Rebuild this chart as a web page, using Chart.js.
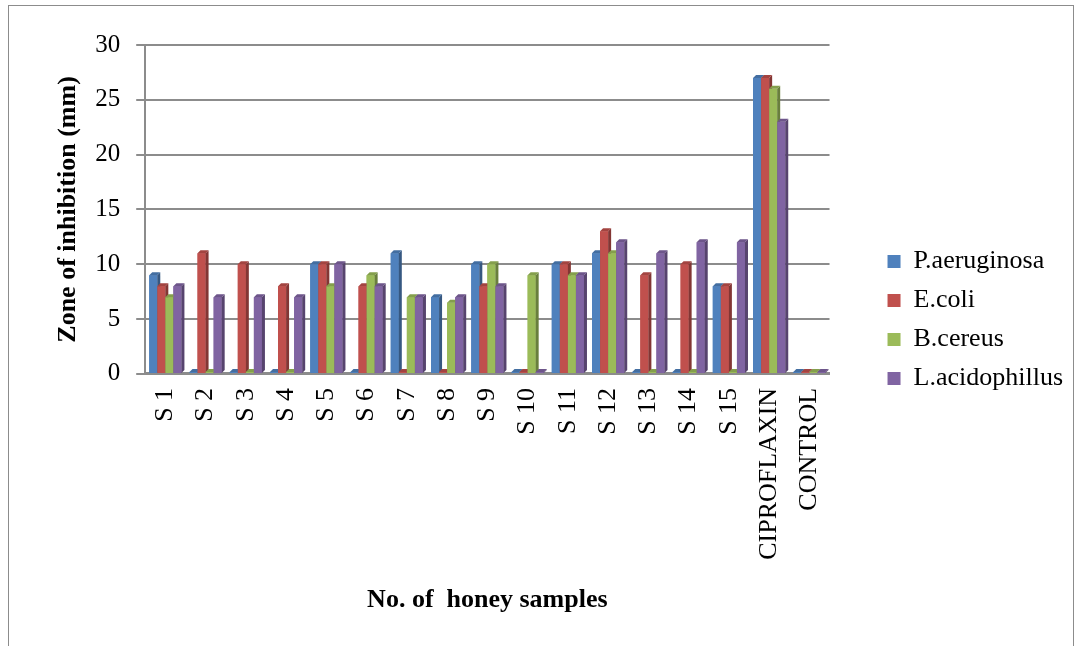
<!DOCTYPE html>
<html>
<head>
<meta charset="utf-8">
<title>Zone of inhibition by honey sample</title>
<script src="https://cdn.jsdelivr.net/npm/chart.js@4/dist/chart.umd.min.js"></script>
<style>
  html, body { margin: 0; padding: 0; background: #ffffff; }
  #frame {
    position: absolute; left: 8px; top: 5px; width: 1066px; height: 700px;
    border: 1px solid #8c8c8c; border-bottom: none; box-sizing: border-box;
  }
  #chart { position: absolute; left: 0; top: 0; }
</style>
</head>
<body>
<div id="frame"></div>
<canvas id="chart" width="1080" height="646"></canvas>
<script>
// Honey samples tested, plus antibiotic and blank reference discs
const categories = ['S 1', 'S 2', 'S 3', 'S 4', 'S 5', 'S 6', 'S 7', 'S 8', 'S 9', 'S 10',
  'S 11', 'S 12', 'S 13', 'S 14', 'S 15', 'CIPROFLAXIN', 'CONTROL'];

// Zone of inhibition (mm) per test organism
const pAeruginosa   = [9, 0, 0, 0, 10, 0, 11, 7, 10, 0, 10, 11, 0, 0, 8, 27, 0];
const eColi         = [8, 11, 10, 8, 10, 8, 0, 0, 8, 0, 10, 13, 9, 10, 8, 27, 0];
const bCereus       = [7, 0, 0, 0, 8, 9, 7, 6.5, 10, 9, 9, 11, 0, 0, 0, 26, 0];
const lAcidophillus = [8, 7, 7, 7, 10, 8, 7, 7, 8, 0, 9, 12, 11, 12, 12, 23, 0];

const seriesNames = ['P.aeruginosa', 'E.coli', 'B.cereus', 'L.acidophillus'];
const seriesColors = ['#4F81BD', '#C0504D', '#9BBB59', '#8064A2'];

const yTicks = [0, 5, 10, 15, 20, 25, 30];

function shade(hex, f) {
  const n = parseInt(hex.slice(1), 16);
  const r = Math.round(((n >> 16) & 255) * f);
  const g = Math.round(((n >> 8) & 255) * f);
  const b = Math.round((n & 255) * f);
  return 'rgb(' + r + ',' + g + ',' + b + ')';
}

// Gives each bar a shallow extruded look: side and top faces offset up-right
const barDepth = {
  id: 'barDepth',
  afterDatasetsDraw(chart, args, opts) {
    const ctx = chart.ctx;
    const d = opts.depth;
    const metas = chart.data.datasets.map((_, i) => chart.getDatasetMeta(i));
    ctx.save();
    for (let j = 0; j < chart.data.labels.length; j++) {
      metas.forEach((meta, i) => {
        const bar = meta.data[j];
        if (!bar) return;
        const p = bar.getProps(['x', 'y', 'base', 'width'], true);
        const l = p.x - p.width / 2, r = p.x + p.width / 2;
        const col = chart.data.datasets[i].backgroundColor;
        ctx.fillStyle = col;
        ctx.fillRect(l, p.y, p.width, p.base - p.y);
        ctx.fillStyle = shade(col, 0.68);
        ctx.beginPath();
        ctx.moveTo(r, p.y); ctx.lineTo(r + d, p.y - d);
        ctx.lineTo(r + d, p.base - d); ctx.lineTo(r, p.base);
        ctx.closePath(); ctx.fill();
        ctx.fillStyle = shade(col, 0.85);
        ctx.beginPath();
        ctx.moveTo(l, p.y); ctx.lineTo(l + d, p.y - d);
        ctx.lineTo(r + d, p.y - d); ctx.lineTo(r, p.y);
        ctx.closePath(); ctx.fill();
      });
    }
    ctx.restore();
  }
};

// Leaves empty space between the plot area and the legend on its left side
const legendGap = {
  id: 'legendGap',
  beforeLayout(chart, args, opts) {
    const lg = chart.legend;
    if (lg && !lg.$gapPatched) {
      const fit = lg.fit;
      lg.fit = function () { fit.call(this); this.width += opts.gap; };
      lg.$gapPatched = true;
    }
  },
  afterLayout(chart, args, opts) {
    if (chart.legend) chart.legend.left += opts.gap;
  }
};

Chart.defaults.font.family = "'Liberation Serif', 'Times New Roman', serif";
Chart.defaults.color = '#000000';

const seriesValues = [pAeruginosa, eColi, bCereus, lAcidophillus];

new Chart(document.getElementById('chart'), {
  type: 'bar',
  data: {
    labels: categories,
    datasets: seriesNames.map((name, i) => ({
      label: name,
      data: seriesValues[i],
      backgroundColor: seriesColors[i],
      borderWidth: 0,
      minBarLength: 2,
      categoryPercentage: 0.8,
      barPercentage: 1.0
    }))
  },
  options: {
    responsive: false,
    animation: false,
    layout: { padding: { top: 45, left: 49, right: 7, bottom: 51 } },
    plugins: {
      tooltip: { enabled: false },
      barDepth: { depth: 3 },
      legendGap: { gap: 45 },
      legend: {
        position: 'right',
        align: 'center',
        labels: {
          font: { size: 26 },
          color: '#000000',
          boxWidth: 13,
          boxHeight: 13,
          padding: 13
        }
      }
    },
    scales: {
      x: {
        grid: { display: false, drawTicks: false, tickLength: 0 },
        border: { display: true, color: '#8c8c8c', width: 3 },
        ticks: {
          autoSkip: false,
          maxRotation: 90,
          minRotation: 90,
          padding: 14,
          font: { size: 26 }
        },
        title: {
          display: true,
          text: 'No. of  honey samples',
          font: { size: 26, weight: 'bold' },
          padding: { top: 11, bottom: -21 }
        }
      },
      y: {
        min: 0,
        max: 30,
        afterBuildTicks(scale) { scale.ticks = yTicks.map(v => ({ value: v })); },
        grid: { color: '#8c8c8c', lineWidth: 2, tickLength: 9 },
        border: { display: true, color: '#8c8c8c', width: 2 },
        ticks: { padding: 16, font: { size: 25 } },
        title: {
          display: true,
          text: 'Zone of inhibition (mm)',
          font: { size: 26, weight: 'bold' },
          padding: { top: 4, bottom: -5 }
        }
      }
    }
  },
  plugins: [barDepth, legendGap]
});
</script>
</body>
</html>
